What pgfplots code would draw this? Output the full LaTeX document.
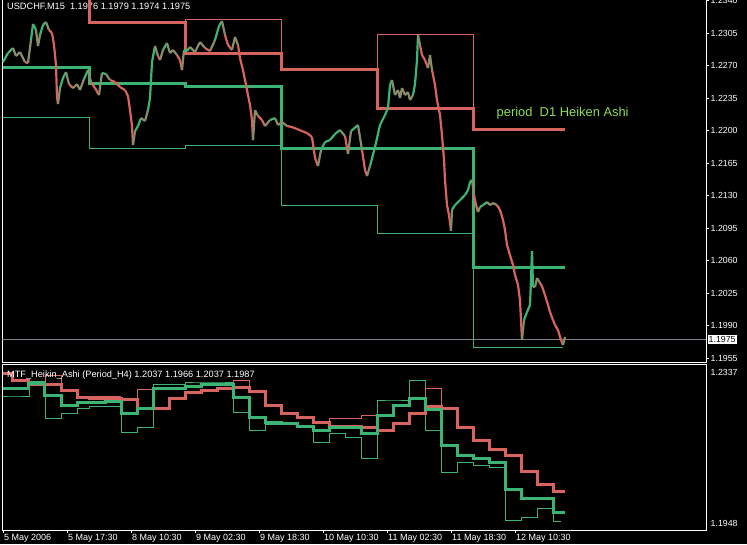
\documentclass[border=0pt]{standalone}
\usepackage{pgfplots}
\pgfplotsset{compat=1.18}
\usepackage{fontspec}
\setmainfont{Liberation Sans}
\definecolor{hared}{RGB}{215,100,95}
\definecolor{hagreen}{RGB}{60,180,115}
\definecolor{labgreen}{RGB}{140,220,80}
\definecolor{pline}{RGB}{128,128,140}
\pgfplotstableread{
x y c
3 1.22737 1
8 1.22834 1
13 1.22888 1
16 1.22802 0
20 1.22845 1
25 1.22737 0
28 1.22727 0
31 1.22974 1
33 1.23147 1
36 1.23082 1
38 1.22910 0
40 1.23028 1
43 1.23136 1
46 1.23168 1
49 1.23082 0
52 1.23050 0
54 1.22920 0
56 1.22705 0
57 1.22360 0
58 1.22285 0
60 1.22457 1
63 1.22565 1
66 1.22630 1
69 1.22500 0
73 1.22457 0
77 1.22500 1
80 1.22436 0
84 1.22554 1
88 1.22651 1
91 1.22522 0
95 1.22457 0
99 1.22382 0
102 1.22619 1
106 1.22608 1
110 1.22544 0
115 1.22522 0
120 1.22468 0
125 1.22436 0
128 1.22371 0
130 1.22220 0
132 1.22048 0
133 1.21844 0
135 1.21994 1
138 1.22048 1
141 1.22134 1
145 1.22102 0
148 1.22220 1
150 1.22350 1
152 1.22737 1
155 1.22910 1
158 1.22802 0
160 1.22759 0
163 1.22867 1
167 1.22942 1
170 1.22834 0
173 1.22867 1
177 1.22813 0
180 1.22759 0
182 1.22651 0
184 1.22867 1
187 1.22856 1
190 1.22899 1
195 1.22845 0
200 1.22953 1
205 1.22888 0
210 1.22856 0
215 1.22974 1
219 1.23125 1
222 1.23179 1
225 1.23028 0
228 1.22920 0
232 1.22867 0
235 1.23007 1
238 1.22920 0
240 1.22780 0
243 1.22651 0
247 1.22436 0
250 1.22274 0
252 1.22113 0
253 1.21897 0
255 1.22220 1
258 1.22156 0
262 1.22113 0
265 1.22048 0
270 1.22113 1
275 1.22134 1
278 1.22059 0
282 1.22091 1
287 1.22048 0
292 1.22037 0
297 1.22016 0
302 1.21994 0
307 1.21973 0
312 1.21930 0
315 1.21704 0
318 1.21617 0
321 1.21790 1
325 1.21876 1
330 1.21897 1
335 1.21962 1
340 1.22005 1
345 1.21940 0
348 1.21747 0
351 1.21994 1
358 1.22059 1
362 1.21790 0
365 1.21574 0
367 1.21510 0
370 1.21617 1
375 1.21822 1
380 1.22059 1
385 1.22167 1
388 1.22242 1
390 1.22490 1
392 1.22544 1
395 1.22382 0
398 1.22436 1
400 1.22350 0
402 1.22457 1
405 1.22382 0
408 1.22414 1
410 1.22328 0
413 1.22382 1
415 1.22500 1
417 1.22759 1
418 1.23028 1
420 1.22920 0
422 1.22813 0
425 1.22759 0
428 1.22673 0
430 1.22813 1
432 1.22651 0
435 1.22490 0
437 1.22328 0
440 1.22167 0
442 1.21951 0
444 1.21682 0
445 1.21467 0
447 1.21197 0
449 1.21090 0
451 1.20920 0
452 1.21144 1
455 1.21197 1
460 1.21251 1
465 1.21305 1
468 1.21359 1
470 1.21445 1
472 1.21467 1
474 1.21305 0
476 1.21197 0
478 1.21122 0
480 1.21176 1
483 1.21197 1
487 1.21230 1
490 1.21197 0
493 1.21219 1
497 1.21197 0
500 1.21144 0
503 1.21036 0
505 1.20928 0
507 1.20767 0
510 1.20659 0
513 1.20551 0
515 1.20444 0
518 1.20336 0
520 1.20174 0
521 1.19959 0
522 1.19744 0
524 1.19959 1
527 1.20045 1
530 1.20121 1
531 1.20390 1
532 1.20702 1
533 1.20314 1
535 1.20314 0
537 1.20411 1
540 1.20357 0
542 1.20325 0
545 1.20228 0
548 1.20121 0
550 1.20045 0
553 1.19959 0
555 1.19905 0
558 1.19851 0
561 1.19744 0
563 1.19690 0
565 1.19776 1
}\candles
\begin{document}
\begin{tikzpicture}
\useasboundingbox (0pt,0pt) rectangle (747pt,544pt);
\clip (0pt,0pt) rectangle (747pt,544pt);
\fill[black] (0pt,0pt) rectangle (747pt,544pt);
\begin{scope}[overlay]
\node[anchor=base west, inner sep=0pt, text=white, font=\fontsize{9.2}{10}\selectfont] at (7pt,534pt) {USDCHF,M15\ \ 1.1976 1.1979 1.1974 1.1975};
\node[anchor=base west, inner sep=0pt, text=labgreen, font=\fontsize{12.9}{14}\selectfont] at (496.5pt,427pt) {period\ \ D1 Heiken Ashi};
\begin{axis}[
  scale only axis, anchor=south west, at={(2.5pt,182pt)},
  width=703.5pt, height=364pt,
  xmin=2.5, xmax=706, ymin=1.19507, ymax=1.23427,
  axis line style={white, line width=0.9pt},
  xtick=\empty,
  ytick={1.1955,1.1990,1.2025,1.2060,1.2095,1.2130,1.2165,1.2200,1.2235,1.2270,1.2305,1.2340},
  yticklabels={1.1955,1.1990,1.2025,1.2060,1.2095,1.2130,1.2165,1.2200,1.2235,1.2270,1.2305,1.2340},
  ytick pos=right, yticklabel pos=right,
  tick align=outside, major tick length=3pt,
  tick style={white, line width=0.8pt},
  yticklabel style={text=white, font=\fontsize{8.8}{10}\selectfont, inner sep=1.5pt},
  extra y ticks={1.1975}, extra y tick labels={1.1975},
  extra y tick style={major tick length=0pt, yticklabel style={fill=white, text=black, inner sep=1pt, xshift=1.5pt}},
]
\addplot[pline, line width=0.8pt] coordinates {(2.5,1.1975)(706,1.1975)};
\addplot[hagreen, line width=0.9pt, const plot] coordinates {(3,1.22145)(89,1.21811)(185,1.21844)(281,1.21197)(377,1.20896)(473,1.19668)(563,1.19668)};
\addplot[hared, line width=0.9pt] coordinates {(185,1.22834)(185,1.23200)(281,1.23200)(281,1.22662)};
\addplot[hared, line width=0.9pt] coordinates {(377,1.22242)(377,1.23039)(473,1.23039)(473,1.22016)};
\addplot[hared, line width=3pt, const plot] coordinates {(89,1.2350)(89,1.23168)(185,1.22834)(281,1.22662)(377,1.22242)(473,1.22016)(565,1.22016)};
\addplot[hagreen, line width=3pt, const plot] coordinates {(3,1.22683)(89,1.22511)(185,1.22479)(281,1.21811)(473,1.20530)(565,1.20530)};
\addplot[mesh, point meta=explicit, point meta min=0, point meta max=1,
  colormap={rg}{rgb255=(215,100,95) rgb255=(60,180,115)},
  line width=2.2pt, line join=round] table[x=x, y=y, meta=c] {\candles};
\end{axis}
\begin{axis}[
  scale only axis, anchor=south west, at={(2.5pt,14pt)},
  width=703.5pt, height=166pt,
  xmin=2.5, xmax=706, ymin=1.19456, ymax=1.23394,
  axis line style={white, line width=0.9pt},
  xtick={3,67,131,195,259,323,387,451,515},
  xticklabels={5 May 2006,5 May 17:30,8 May 10:30,9 May 02:30,9 May 18:30,10 May 10:30,11 May 02:30,11 May 18:30,12 May 10:30},
  xtick pos=bottom,
  tick align=outside, major tick length=3pt,
  tick style={white, line width=0.8pt},
  xticklabel style={anchor=north west, inner sep=1pt, text=white, font=\fontsize{9}{10}\selectfont},
  ytick={1.2337}, yticklabels={1.2337},
  ytick pos=right, yticklabel pos=right,
  ytick style={draw=none},
  yticklabel style={text=white, font=\fontsize{8.8}{10}\selectfont, inner sep=1.5pt, yshift=-7pt},
  extra y ticks={1.1948}, extra y tick labels={1.1948},
  extra y tick style={ytick style={draw=none}, yticklabel style={yshift=13pt}},
]
\addplot[hagreen, line width=0.9pt, const plot] coordinates {(3,1.22635)(13,1.22635)(29,1.22990)(45,1.22113)(61,1.22231)(77,1.22350)(89,1.22397)(105,1.22397)(121,1.21781)(137,1.21899)(153,1.22919)(169,1.22919)(185,1.22967)(201,1.22967)(217,1.22967)(233,1.22255)(249,1.21828)(265,1.21971)(281,1.21971)(297,1.21899)(313,1.21544)(329,1.21757)(345,1.21662)(361,1.21164)(377,1.22540)(393,1.22540)(409,1.23014)(425,1.21828)(441,1.20832)(457,1.21069)(473,1.20998)(489,1.20951)(505,1.19693)(521,1.19765)(537,1.19978)(553,1.1966)(561,1.1966)};
\addplot[hared, line width=0.9pt] coordinates {(45,1.22919)(45,1.23133)(61,1.23133)(61,1.22777)};
\addplot[hared, line width=0.9pt] coordinates {(89,1.22635)(121,1.22635)};
\addplot[hared, line width=0.9pt] coordinates {(137,1.22350)(137,1.22801)(153,1.22801)(153,1.22350)};
\addplot[hared, line width=0.9pt] coordinates {(233,1.22848)(233,1.23014)(249,1.23014)(249,1.22753)};
\addplot[hared, line width=0.9pt] coordinates {(329,1.21923)(329,1.22113)(361,1.22113)(361,1.22184)(377,1.22184)(377,1.21828)};
\addplot[hared, line width=0.9pt] coordinates {(425,1.22374)(425,1.22824)(441,1.22824)(441,1.22350)};
\addplot[hared, line width=3pt, const plot] coordinates {(3,1.23157)(13,1.23014)(29,1.22919)(45,1.22919)(61,1.22777)(77,1.22611)(89,1.22587)(105,1.22564)(121,1.22540)(137,1.22350)(153,1.22350)(169,1.22587)(185,1.22706)(201,1.22777)(217,1.22824)(233,1.22848)(249,1.22753)(265,1.22421)(281,1.22231)(297,1.22113)(313,1.22018)(329,1.21923)(345,1.21923)(361,1.21899)(377,1.21828)(393,1.21994)(409,1.22208)(425,1.22374)(441,1.22350)(457,1.21899)(473,1.21591)(489,1.21354)(505,1.21235)(521,1.20832)(537,1.20524)(553,1.2037)(565,1.2037)};
\addplot[hagreen, line width=3pt, const plot] coordinates {(3,1.22801)(13,1.22801)(29,1.22943)(45,1.22658)(61,1.22421)(77,1.22492)(89,1.22492)(105,1.22516)(121,1.22208)(137,1.22350)(153,1.22801)(169,1.22824)(185,1.22872)(201,1.22896)(217,1.22919)(233,1.22611)(249,1.22113)(265,1.22018)(281,1.21994)(297,1.21923)(313,1.21828)(329,1.21899)(345,1.21899)(361,1.21757)(377,1.22184)(393,1.22421)(409,1.22587)(425,1.22303)(441,1.21472)(457,1.21235)(473,1.21164)(489,1.21069)(505,1.20405)(521,1.20215)(537,1.20192)(553,1.1987)(565,1.1987)};
\end{axis}
\node[anchor=base west, inner sep=0pt, text=white, font=\fontsize{9.2}{10}\selectfont] at (7pt,166pt) {MTF\_Heikin\_Ashi (Period\_H4) 1.2037 1.1966 1.2037 1.1987};
\end{scope}
\end{tikzpicture}
\end{document}
